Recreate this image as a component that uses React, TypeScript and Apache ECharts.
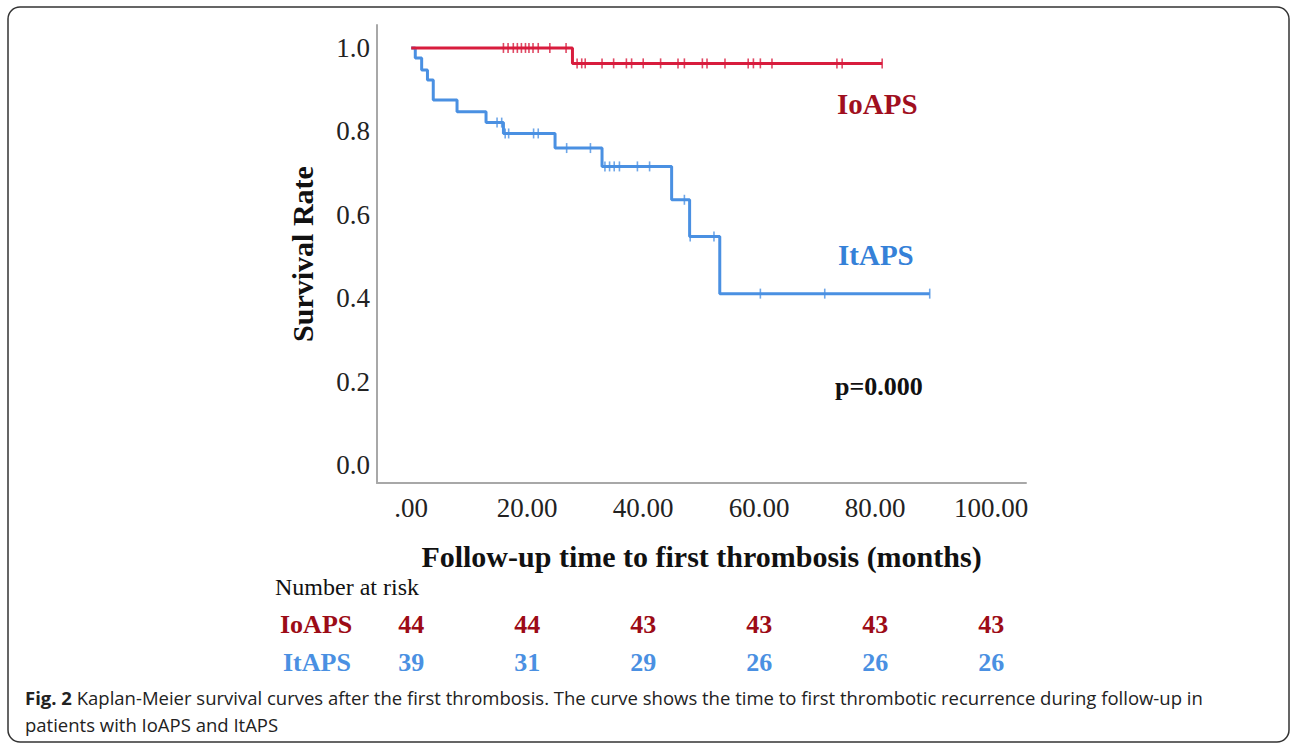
import React, { useEffect, useRef } from "react";
import * as echarts from "echarts";

const xTicks = [0, 20, 40, 60, 80, 100];
const yTicks = [0, 0.2, 0.4, 0.6, 0.8, 1.0];
const riskTimes = [0, 20, 40, 60, 80, 100];
const ioapsRisk = [44, 44, 43, 43, 43, 43];
const itapsRisk = [39, 31, 29, 26, 26, 26];

const ioapsSteps: [number, number][] = [
  [0, 1],
  [27.8, 0.963],
  [81.2, 0.963],
];
const ioapsCensor: [number, number][] = [
  [15.9, 1], [16.7, 1], [17.6, 1], [18.3, 1], [19.0, 1], [19.7, 1], [20.3, 1], [21.0, 1], [21.9, 1], [23.9, 1], [26.7, 1],
  [28.6, 0.963], [29.4, 0.963], [30.0, 0.963], [32.9, 0.963], [34.9, 0.963], [37.1, 0.963], [38.0, 0.963], [40.0, 0.963],
  [43.0, 0.963], [46.0, 0.963], [47.1, 0.963], [50.2, 0.963], [51.0, 0.963], [54.1, 0.963], [58.1, 0.963], [59.0, 0.963],
  [60.2, 0.963], [62.2, 0.963], [73.4, 0.963], [74.3, 0.963], [81.2, 0.963],
];
const itapsSteps: [number, number][] = [
  [0, 1], [0.7, 0.976], [1.8, 0.947], [2.8, 0.923], [3.8, 0.875], [7.9, 0.847], [12.9, 0.821], [15.9, 0.795],
  [24.8, 0.76], [32.9, 0.716], [44.9, 0.636], [48.0, 0.548], [53.2, 0.411], [89.4, 0.411],
];
const itapsCensor: [number, number][] = [
  [14.8, 0.821], [15.6, 0.821],
  [16.2, 0.795], [16.8, 0.795], [21.1, 0.795], [21.9, 0.795],
  [26.8, 0.76], [30.9, 0.76],
  [33.4, 0.716], [34.2, 0.716], [35.0, 0.716], [35.9, 0.716], [39.0, 0.716], [41.1, 0.716],
  [47.1, 0.636],
  [48.1, 0.548], [52.2, 0.548],
  [60.2, 0.411], [71.3, 0.411], [89.4, 0.411],
];

const SERIF = "'Liberation Serif', 'Times New Roman', serif";
const RED_LINE = "#d81c3d";
const BLUE_LINE = "#4a90e2";
const RED_TEXT = "#a00f1e";
const BLUE_TEXT = "#3581d8";

const X_MIN = -5.9;
const X_MAX = 106;
const Y_MIN = -0.043;
const Y_MAX = 1.055;

export default function App() {
  const ref = useRef<HTMLDivElement>(null);
  useEffect(() => {
    if (!ref.current) return;
    const chart = echarts.init(ref.current, null, { renderer: "svg" });
    const gridLR = { left: 377, right: 266 };
    const hiddenY = (gi: number) => ({ type: "value", gridIndex: gi, show: false, min: 0, max: 1 });
    const riskAxis = (gi: number, vals: number[], color: string) => ({
      type: "value",
      gridIndex: gi,
      min: X_MIN,
      max: X_MAX,
      axisLine: { show: false },
      axisTick: { show: false },
      splitLine: { show: false },
      axisLabel: {
        customValues: riskTimes,
        margin: 10,
        fontFamily: SERIF,
        fontSize: 26,
        fontWeight: "bold",
        color,
        formatter: (v: number) => {
          const i = riskTimes.indexOf(Math.round(v));
          return i >= 0 ? String(vals[i]) : "";
        },
      },
    });
    chart.setOption({
      animation: false,
      backgroundColor: "#ffffff",
      grid: [
        { ...gridLR, top: 25, bottom: 262 },
        { ...gridLR, top: 600, height: 1 },
        { ...gridLR, top: 638, height: 1 },
      ],
      xAxis: [
        {
          type: "value",
          gridIndex: 0,
          min: X_MIN,
          max: X_MAX,
          axisLine: { show: true, onZero: false, lineStyle: { color: "#a8a8a8", width: 2 } },
          axisTick: { show: false },
          splitLine: { show: false },
          axisLabel: {
            customValues: xTicks,
            margin: 11,
            fontFamily: SERIF,
            fontSize: 27,
            color: "#222",
            formatter: (v: number) => (v === 0 ? ".00" : v.toFixed(2)),
          },
          name: "Follow-up time to first thrombosis (months)",
          nameLocation: "middle",
          nameGap: 58,
          nameTextStyle: { fontFamily: SERIF, fontSize: 30, fontWeight: "bold", color: "#111" },
        },
        riskAxis(1, ioapsRisk, "#9c0b16"),
        riskAxis(2, itapsRisk, BLUE_LINE),
      ],
      yAxis: [
        {
          type: "value",
          gridIndex: 0,
          min: Y_MIN,
          max: Y_MAX,
          axisLine: { show: true, onZero: false, lineStyle: { color: "#a8a8a8", width: 2 } },
          axisTick: { show: false },
          splitLine: { show: false },
          axisLabel: {
            customValues: yTicks,
            margin: 7,
            fontFamily: SERIF,
            fontSize: 27,
            color: "#222",
            formatter: (v: number) => v.toFixed(1),
          },
          name: "Survival Rate",
          nameLocation: "middle",
          nameGap: 60,
          nameTextStyle: { fontFamily: SERIF, fontSize: 30, fontWeight: "bold", color: "#111" },
        },
        hiddenY(1),
        hiddenY(2),
      ],
      series: [
        {
          type: "line",
          name: "IoAPS",
          xAxisIndex: 0,
          yAxisIndex: 0,
          step: "end",
          data: ioapsSteps,
          showSymbol: false,
          lineStyle: { color: RED_LINE, width: 3 },
          z: 3,
        },
        {
          type: "line",
          name: "ItAPS",
          xAxisIndex: 0,
          yAxisIndex: 0,
          step: "end",
          data: itapsSteps,
          showSymbol: false,
          lineStyle: { color: BLUE_LINE, width: 3 },
          z: 2,
        },
        {
          type: "scatter",
          xAxisIndex: 0,
          yAxisIndex: 0,
          data: ioapsCensor,
          symbol: "rect",
          symbolSize: [1.6, 10],
          itemStyle: { color: RED_LINE },
          z: 4,
        },
        {
          type: "scatter",
          xAxisIndex: 0,
          yAxisIndex: 0,
          data: itapsCensor,
          symbol: "rect",
          symbolSize: [1.6, 10],
          itemStyle: { color: BLUE_LINE },
          z: 4,
        },
      ],
      graphic: [
        {
          type: "rect",
          shape: { x: 8, y: 7, width: 1281, height: 735, r: 12 },
          style: { fill: "none", stroke: "#333", lineWidth: 1.5 },
          z: -1,
        },
        {
          type: "text",
          x: 837,
          y: 104,
          style: { text: "IoAPS", fontFamily: SERIF, fontSize: 29, fontWeight: "bold", fill: RED_TEXT, verticalAlign: "middle" },
        },
        {
          type: "text",
          x: 838,
          y: 255,
          style: { text: "ItAPS", fontFamily: SERIF, fontSize: 29, fontWeight: "bold", fill: BLUE_TEXT, verticalAlign: "middle" },
        },
        {
          type: "text",
          x: 835,
          y: 386,
          style: { text: "p=0.000", fontFamily: SERIF, fontSize: 26, fontWeight: "bold", fill: "#111", verticalAlign: "middle" },
        },
        {
          type: "text",
          x: 275,
          y: 587,
          style: { text: "Number at risk", fontFamily: SERIF, fontSize: 24, fill: "#111", verticalAlign: "middle" },
        },
        {
          type: "text",
          x: 280,
          y: 624,
          style: { text: "IoAPS", fontFamily: SERIF, fontSize: 26, fontWeight: "bold", fill: "#9c0b16", verticalAlign: "middle" },
        },
        {
          type: "text",
          x: 283,
          y: 662,
          style: { text: "ItAPS", fontFamily: SERIF, fontSize: 26, fontWeight: "bold", fill: BLUE_LINE, verticalAlign: "middle" },
        },
        {
          type: "text",
          x: 25,
          y: 697,
          style: {
            text: "{b|Fig. 2} Kaplan-Meier survival curves after the first thrombosis. The curve shows the time to first thrombotic recurrence during follow-up in",
            fontFamily: "'Open Sans', sans-serif",
            fontSize: 18.5,
            fill: "#222",
            verticalAlign: "middle",
            rich: { b: { fontFamily: "'Open Sans', sans-serif", fontSize: 18.5, fontWeight: "bold", fill: "#222" } },
          },
        },
        {
          type: "text",
          x: 25,
          y: 724,
          style: {
            text: "patients with IoAPS and ItAPS",
            fontFamily: "'Open Sans', sans-serif",
            fontSize: 18.5,
            fill: "#222",
            verticalAlign: "middle",
          },
        },
      ],
    });
    return () => chart.dispose();
  }, []);
  return (
    <div
      ref={ref}
      style={{ position: "absolute", left: 0, top: 0, width: 1292, height: 745, background: "#fff" }}
    />
  );
}
